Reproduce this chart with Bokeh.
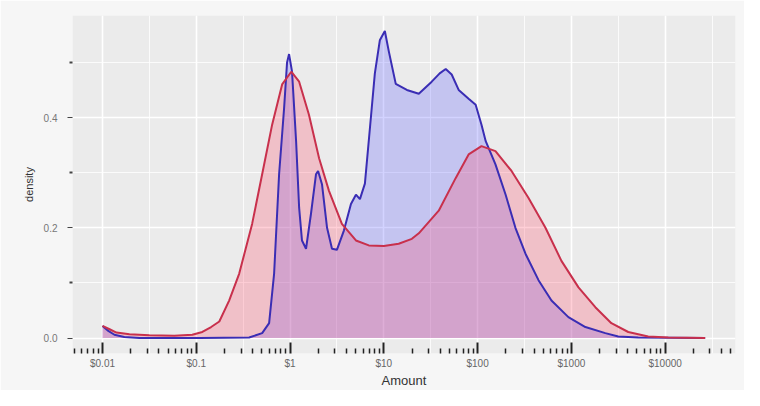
from bokeh.plotting import figure
from bokeh.models import FixedTicker, CustomJSTickFormatter, PrintfTickFormatter, Range1d
from bokeh.embed import file_html
from bokeh.resources import INLINE

# ---- data ----
blue_amount = [0.0100, 0.0113, 0.0134, 0.0171, 0.0248, 0.108, 0.366, 0.504, 0.598, 0.676,
               0.764, 0.863, 0.929, 0.976, 1.05, 1.16, 1.25, 1.34, 1.48, 1.67,
               1.89, 1.99, 2.19, 2.48, 2.80, 3.16, 3.75, 4.46, 5.04, 5.56,
               6.28, 7.10, 8.02, 9.06, 10.25, 11.3, 13.4, 17.6, 23.6, 32.4,
               39.4, 45.7, 52.9, 62.8, 80.2, 95.3, 110, 122, 155, 199,
               253, 324, 446, 613, 929, 1410, 2300, 3160, 5160, 26700]
blue_density = [0.022, 0.014, 0.006, 0.002, 0.0, 0.0, 0.001, 0.009, 0.027, 0.117,
                0.297, 0.416, 0.500, 0.515, 0.483, 0.357, 0.236, 0.177, 0.162, 0.225,
                0.297, 0.303, 0.279, 0.200, 0.162, 0.160, 0.195, 0.243, 0.260, 0.252,
                0.280, 0.380, 0.480, 0.540, 0.557, 0.520, 0.461, 0.450, 0.443, 0.465,
                0.480, 0.488, 0.478, 0.450, 0.434, 0.423, 0.387, 0.357, 0.315, 0.260,
                0.200, 0.153, 0.105, 0.068, 0.038, 0.020, 0.009, 0.003, 0.001, 0.0]

red_amount = [0.0100, 0.0119, 0.0141, 0.0194, 0.0316, 0.0583, 0.0906, 0.116, 0.144, 0.176,
              0.224, 0.287, 0.394, 0.504, 0.644, 0.823, 1.03, 1.25, 1.59, 2.04,
              2.60, 3.57, 5.04, 6.92, 10.0, 14.4, 19.9, 23.6, 38.5, 58.3,
              80.2, 110, 155, 230, 349, 529, 783, 1190, 1800, 2670,
              4040, 6590, 10800, 26700]
red_density = [0.022, 0.016, 0.010, 0.007, 0.005, 0.004, 0.006, 0.011, 0.020, 0.030,
               0.068, 0.117, 0.207, 0.297, 0.387, 0.460, 0.483, 0.465, 0.405, 0.326,
               0.267, 0.207, 0.177, 0.168, 0.167, 0.171, 0.180, 0.190, 0.231, 0.290,
               0.333, 0.348, 0.339, 0.303, 0.254, 0.200, 0.140, 0.092, 0.056, 0.027,
               0.011, 0.003, 0.001, 0.0]

x_ticks = [0.01, 0.1, 1, 10, 100, 1000, 10000]
y_ticks = [0.0, 0.2, 0.4]
y_minor = [0.1, 0.3, 0.5]

# log-tick positions (2..9 within each decade) and half-decade grid lines
log_minor = [k * 10.0 ** d for d in range(-3, 5) for k in range(2, 10)]
half_dec = [10.0 ** (d + 0.5) for d in range(-3, 5)]

p = figure(width=744, height=390, x_axis_type="log", output_backend="svg",
           toolbar_location=None,
           x_range=Range1d(10 ** -2.32, 10 ** 4.75), y_range=Range1d(-0.028, 0.585),
           min_border_left=72, min_border_right=9, min_border_top=15, min_border_bottom=37)

p.background_fill_color = "#ebebeb"
p.border_fill_color = "#f6f6f6"
p.outline_line_color = None

# grids
p.xgrid.ticker = FixedTicker(ticks=x_ticks, minor_ticks=half_dec)
p.ygrid.ticker = FixedTicker(ticks=y_ticks, minor_ticks=y_minor)
for g in (p.xgrid[0], p.ygrid[0]):
    g.grid_line_color = "white"
    g.grid_line_width = 1.6
    g.minor_grid_line_color = "white"
    g.minor_grid_line_width = 0.8

# areas and lines
p.varea(x=blue_amount, y1=0, y2=blue_density, fill_color="#4646ff", fill_alpha=0.24)
p.varea(x=red_amount, y1=0, y2=red_density, fill_color="#ff4060", fill_alpha=0.25)
p.line(blue_amount, blue_density, line_color="#3a2db4", line_width=2)
p.line(red_amount, red_density, line_color="#c8304c", line_width=2)

# x axis (log ticks drawn inside the panel)
xa = p.xaxis[0]
xa.ticker = FixedTicker(ticks=x_ticks, minor_ticks=log_minor)
xa.formatter = CustomJSTickFormatter(code='return "$" + tick;')
xa.axis_line_color = None
xa.major_tick_in = 11
xa.major_tick_out = 0
xa.major_tick_line_width = 2
xa.major_tick_line_color = "#222222"
xa.minor_tick_in = 5
xa.minor_tick_out = 0
xa.minor_tick_line_width = 1.5
xa.minor_tick_line_color = "#222222"
xa.major_label_standoff = 4
xa.major_label_text_font = "Liberation Sans"
xa.major_label_text_font_size = "10px"
xa.major_label_text_color = "#666666"
xa.axis_label = "Amount"
xa.axis_label_text_font = "Liberation Sans"
xa.axis_label_text_font_style = "normal"
xa.axis_label_text_font_size = "13px"
xa.axis_label_text_color = "#333333"
xa.axis_label_standoff = 1

# y axis
ya = p.yaxis[0]
ya.ticker = FixedTicker(ticks=y_ticks, minor_ticks=y_minor)
ya.formatter = PrintfTickFormatter(format="%.1f")
ya.axis_line_color = None
ya.major_tick_in = 0
ya.major_tick_out = 5
ya.major_tick_line_color = "#444444"
ya.minor_tick_in = 0
ya.minor_tick_out = 3
ya.minor_tick_line_width = 2
ya.minor_tick_line_color = "#444444"
ya.major_label_standoff = 10
ya.major_label_text_font = "Liberation Sans"
ya.major_label_text_font_size = "10px"
ya.major_label_text_color = "#777777"
ya.axis_label = "density"
ya.axis_label_text_font = "Liberation Sans"
ya.axis_label_text_font_style = "normal"
ya.axis_label_text_font_size = "11px"
ya.axis_label_text_color = "#333333"
ya.axis_label_standoff = 6

open("out.html", "w").write(file_html(p, INLINE))
